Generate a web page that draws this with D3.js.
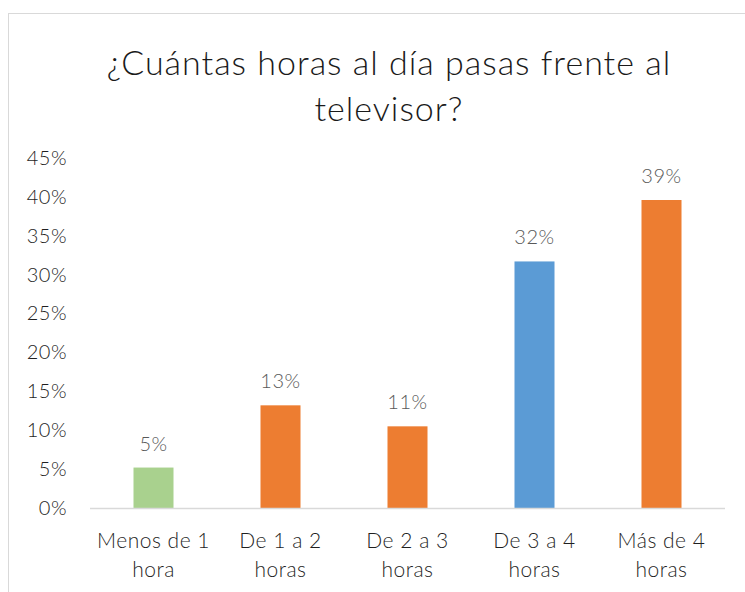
<!DOCTYPE html>
<html>
<head>
<meta charset="utf-8">
<script src="https://cdn.jsdelivr.net/npm/d3@7"></script>
<style>
  body { margin: 0; background: #fff; }
  svg { font-family: Lato, "Open Sans", sans-serif; }
</style>
</head>
<body>
<svg width="745" height="592"></svg>
<script>
// Chart data
const categories = ["Menos de 1|hora", "De 1 a 2|horas", "De 2 a 3|horas", "De 3 a 4|horas", "Más de 4|horas"];
const values = [0.052, 0.132, 0.105, 0.317, 0.396];
const valueLabels = ["5%", "13%", "11%", "32%", "39%"];
const barColors = ["#A9D18E", "#ED7D31", "#ED7D31", "#5B9BD5", "#ED7D31"];
const yTicks = [0, 0.05, 0.1, 0.15, 0.2, 0.25, 0.3, 0.35, 0.4, 0.45];
const titleLines = ["¿Cuántas horas al día pasas frente al", "televisor?"];

const svg = d3.select("svg");
const margin = {top: 158, right: 20, bottom: 84, left: 90};
const width = 725 - margin.left;
const height = 508 - margin.top;

// chart frame
svg.append("rect")
    .attr("x", 8.5).attr("y", 13.5)
    .attr("width", 760).attr("height", 600)
    .attr("fill", "#fff")
    .attr("stroke", "#D9D9D9");

// title
svg.append("text")
    .attr("text-anchor", "middle")
    .attr("font-size", 34)
    .attr("font-weight", 300)
    .attr("letter-spacing", 1)
    .attr("fill", "#1a1a1a")
    .selectAll("tspan")
    .data(titleLines)
    .enter()
    .append("tspan")
    .attr("x", 389)
    .attr("y", (d, i) => 75 + i * 46)
    .text(d => d);

const g = svg.append("g")
    .attr("transform", `translate(${margin.left},${margin.top})`);

const x = d3.scaleBand()
    .domain(categories)
    .range([0, width])
    .paddingInner(0.685)
    .paddingOuter(0.3425);

const y = d3.scaleLinear()
    .domain([0, 0.45])
    .range([height, 0]);

// y axis (labels only)
const yAxis = g.append("g")
    .call(d3.axisLeft(y).tickValues(yTicks).tickFormat(d3.format(".0%")).tickSize(0).tickPadding(23));
yAxis.select(".domain").remove();
yAxis.selectAll("text")
    .attr("font-family", "Lato, sans-serif")
    .attr("font-size", 20)
    .attr("font-weight", 300)
    .attr("letter-spacing", 0.5)
    .attr("fill", "#1f1f1f");

// bars
g.selectAll(".bar")
    .data(values)
    .enter()
    .append("rect")
    .attr("class", "bar")
    .attr("x", (d, i) => x(categories[i]))
    .attr("y", d => y(d))
    .attr("width", x.bandwidth())
    .attr("height", d => height - y(d))
    .attr("fill", (d, i) => barColors[i]);

// value labels
g.selectAll(".val")
    .data(values)
    .enter()
    .append("text")
    .attr("class", "val")
    .attr("text-anchor", "middle")
    .attr("x", (d, i) => x(categories[i]) + x.bandwidth() / 2)
    .attr("y", d => y(d) - 17)
    .attr("font-size", 20)
    .attr("font-weight", 300)
    .attr("letter-spacing", 0.5)
    .attr("fill", "#595959")
    .text((d, i) => valueLabels[i]);

// baseline
g.append("line")
    .attr("x1", 0).attr("x2", width)
    .attr("y1", height + 0.5).attr("y2", height + 0.5)
    .attr("stroke", "#D9D9D9")
    .attr("stroke-width", 1.5);

// category labels
const cat = g.selectAll(".cat")
    .data(categories)
    .enter()
    .append("text")
    .attr("class", "cat")
    .attr("text-anchor", "middle")
    .attr("font-size", 21)
    .attr("font-weight", 300)
    .attr("letter-spacing", 0.5)
    .attr("fill", "#1f1f1f");
cat.selectAll("tspan")
    .data(d => d.split("|").map(s => ({cat: d, s})))
    .enter()
    .append("tspan")
    .attr("x", d => x(d.cat) + x.bandwidth() / 2)
    .attr("y", (d, i) => height + 40 + i * 29)
    .text(d => d.s);
</script>
</body>
</html>
